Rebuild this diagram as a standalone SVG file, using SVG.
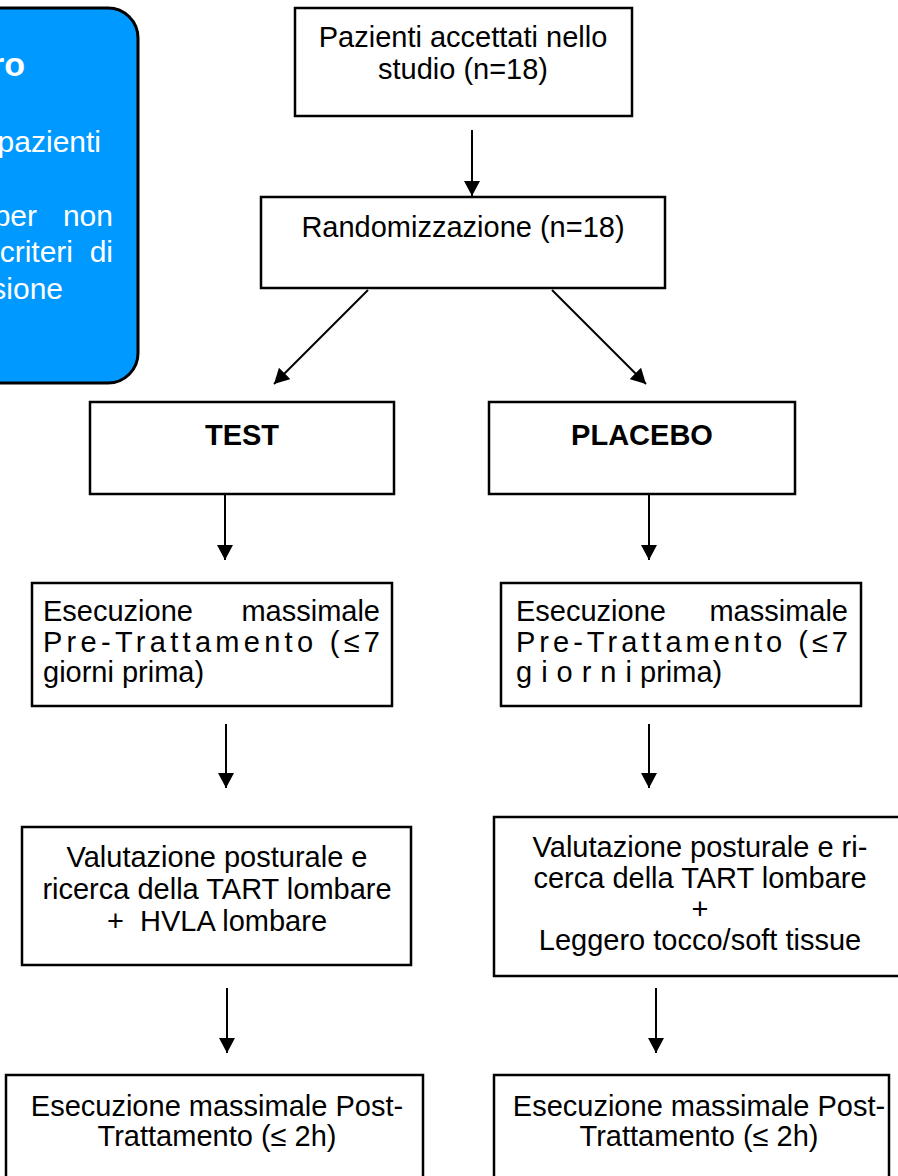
<svg xmlns="http://www.w3.org/2000/svg" width="898" height="1176" viewBox="0 0 898 1176">
<defs>
<marker id="ah" viewBox="0 0 15 16" refX="15" refY="8" markerWidth="15" markerHeight="16" markerUnits="userSpaceOnUse" orient="auto">
<path d="M0,0 L15,8 L0,16 z" fill="#000"/>
</marker>
<style>
.box{fill:#fff;stroke:#000;stroke-width:2.5}
.t{font-family:"Liberation Sans",Arial,Helvetica,sans-serif;font-size:29px;fill:#000}
.c{text-anchor:middle}
.b{font-weight:bold}
.w{font-family:"Liberation Sans",Arial,Helvetica,sans-serif;font-size:30px;fill:#fff;text-anchor:end}
.conn line{stroke:#000;stroke-width:2;marker-end:url(#ah)}
</style>
</defs>
<rect width="898" height="1176" fill="#fff"/>

<g id="excluded">
<rect x="-40" y="8" width="178" height="375" rx="30" ry="30" fill="#0099ff" stroke="#000" stroke-width="3"/>
<text class="w" x="25" y="76" style="font-weight:bold;font-size:34px">ro</text>
<text class="w" x="101" y="152">pazienti</text>
<text class="w" x="37" y="226">per</text>
<text class="w" x="113" y="226">non</text>
<text class="w" x="73" y="262">criteri</text>
<text class="w" x="113" y="262">di</text>
<text class="w" x="63" y="299">sione</text>
</g>

<g id="accepted">
<rect class="box" x="295" y="8" width="337" height="108"/>
<text class="t c" x="463" y="47">Pazienti accettati nello</text>
<text class="t c" x="463" y="79">studio (n=18)</text>
</g>

<g id="random">
<rect class="box" x="261" y="197" width="404" height="91"/>
<text class="t c" x="463" y="237">Randomizzazione (n=18)</text>
</g>

<g id="test">
<rect class="box" x="90" y="402" width="304" height="92"/>
<text class="t c b" x="242" y="445">TEST</text>
</g>

<g id="placebo">
<rect class="box" x="489" y="402" width="306" height="92"/>
<text class="t c b" x="642" y="445">PLACEBO</text>
</g>

<g id="pre-test">
<rect class="box" x="32" y="583" width="360" height="123"/>
<text class="t" x="43" y="621">Esecuzione</text>
<text class="t" x="380" y="621" text-anchor="end">massimale</text>
<text class="t" x="43" y="652" textLength="337" lengthAdjust="spacing">Pre-Trattamento (≤7</text>
<text class="t" x="43" y="682">giorni prima)</text>
</g>

<g id="pre-placebo">
<rect class="box" x="501" y="583" width="360" height="123"/>
<text class="t" x="516" y="621">Esecuzione</text>
<text class="t" x="848" y="621" text-anchor="end">massimale</text>
<text class="t" x="516" y="652" textLength="332" lengthAdjust="spacing">Pre-Trattamento (≤7</text>
<text class="t" x="516" y="682"><tspan letter-spacing="9">giorn</tspan>i prima)</text>
</g>

<g id="treat-test">
<rect class="box" x="22" y="827" width="389" height="138"/>
<text class="t c" x="217" y="867">Valutazione posturale e</text>
<text class="t c" x="217" y="899">ricerca della TART lombare</text>
<text class="t c" x="217" y="931" style="white-space:pre">+  HVLA lombare</text>
</g>

<g id="treat-placebo">
<rect class="box" x="494" y="817" width="414" height="159"/>
<text class="t c" x="700" y="857">Valutazione posturale e ri-</text>
<text class="t c" x="700" y="888">cerca della TART lombare</text>
<text class="t c" x="700" y="919">+</text>
<text class="t c" x="700" y="950">Leggero tocco/soft tissue</text>
</g>

<g id="post-test">
<rect class="box" x="6" y="1075" width="417" height="130"/>
<text class="t c" x="217" y="1116">Esecuzione massimale Post-</text>
<text class="t c" x="217" y="1146">Trattamento (≤ 2h)</text>
</g>

<g id="post-placebo">
<rect class="box" x="494" y="1075" width="395" height="130"/>
<text class="t c" x="699" y="1116">Esecuzione massimale Post-</text>
<text class="t c" x="699" y="1146">Trattamento (≤ 2h)</text>
</g>

<g id="connectors" class="conn">
<line x1="472" y1="130" x2="472" y2="196"/>
<line x1="368" y1="290" x2="274" y2="384"/>
<line x1="552" y1="290" x2="646" y2="384"/>
<line x1="225" y1="495" x2="225" y2="560"/>
<line x1="649" y1="495" x2="649" y2="560"/>
<line x1="226" y1="724" x2="226" y2="788"/>
<line x1="649" y1="724" x2="649" y2="788"/>
<line x1="227" y1="988" x2="227" y2="1053"/>
<line x1="656" y1="988" x2="656" y2="1053"/>
</g>
</svg>
